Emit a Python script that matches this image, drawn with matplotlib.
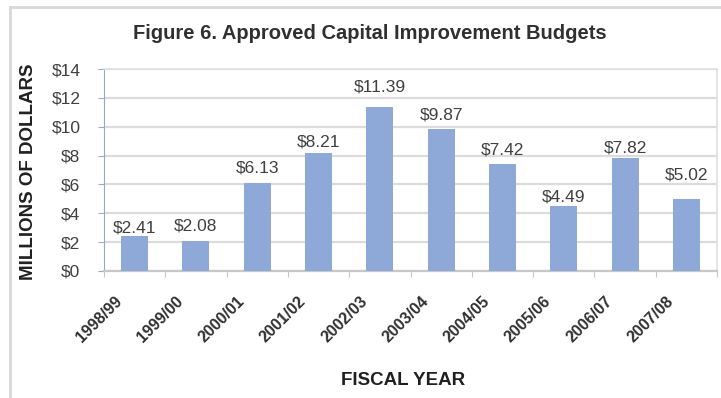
import matplotlib.pyplot as plt
import matplotlib.transforms as mtransforms
from matplotlib.lines import Line2D

# Approved capital improvement budgets, millions of dollars
years = ['1998/99', '1999/00', '2000/01', '2001/02', '2002/03',
         '2003/04', '2004/05', '2005/06', '2006/07', '2007/08']
budgets = [2.41, 2.08, 6.13, 8.21, 11.39, 9.87, 7.42, 4.49, 7.82, 5.02]
y_ticks = [0, 2, 4, 6, 8, 10, 12, 14]

# hand-placed value labels: gap above each bar, in pixels
label_gap = [4, 10, 10, 6, 15, 9, 9, 5, 6, 19]

plt.rcParams['font.family'] = ['Liberation Sans', 'DejaVu Sans']

fig = plt.figure(figsize=(7.21, 3.98), dpi=100)
ax = fig.add_axes([0.1442, 0.3191, 0.8503, 0.5075])

x = list(range(len(years)))
ax.bar(x, budgets, width=0.44, color='#8EA9D8', zorder=3)

for xi, val, gap in zip(x, budgets, label_gap):
    ax.annotate(f'${val:.2f}', (xi, val), xytext=(0, gap), textcoords='offset pixels',
                ha='center', va='baseline', fontsize=12.5, color='#404040')

ax.set_xlim(-0.5, len(years) - 0.5)
ax.set_ylim(0, 14)
ax.set_yticks(y_ticks)
ax.set_yticklabels([f'${t}' for t in y_ticks], fontsize=12.5, color='#404040')
ax.yaxis.grid(True, color='#DCDCDC', linewidth=1.6, zorder=0)

# category boundary ticks on the x axis
ax.set_xticks([i - 0.5 for i in range(len(years) + 1)])
ax.set_xticklabels([])
ax.tick_params(axis='x', length=4, color='#C8C8C8')
ax.tick_params(axis='y', length=4, color='#9AA8C4', pad=13)

# slanted year labels, right end just left of each bar centre
shift = mtransforms.ScaledTranslation(-15 / 100, -28 / 100, fig.dpi_scale_trans)
label_tr = ax.get_xaxis_transform() + shift
for xi, yr in zip(x, years):
    ax.text(xi, 0, yr, transform=label_tr, rotation=45, rotation_mode='anchor',
            ha='right', va='center', fontsize=11.5, fontweight='bold', color='#303030')

for side in ['top', 'right']:
    ax.spines[side].set_color('#E0E0E0')
    ax.spines[side].set_linewidth(1.2)
ax.spines['left'].set_color('#9AA8C4')
ax.spines['bottom'].set_color('#C8C8C8')
ax.spines['bottom'].set_linewidth(1.6)

ax.set_ylabel('MILLIONS OF DOLLARS', fontsize=13.5, fontweight='bold', color='#202020')
ax.yaxis.set_label_coords(-0.110, 0.49)
ax.set_xlabel('FISCAL YEAR', fontsize=13.5, fontweight='bold', color='#202020')
ax.xaxis.set_label_coords(0.488, -0.50)

fig.text(0.513, 0.917, 'Figure 6. Approved Capital Improvement Budgets',
         ha='center', va='center', fontsize=14.5, fontweight='bold', color='#303030')

# chart frame edges
fig.add_artist(Line2D([0.0139, 1.0], [0.982, 0.982], color='#D8D8D8', linewidth=2))
fig.add_artist(Line2D([0.0139, 0.0139], [0.0, 0.982], color='#D8D8D8', linewidth=2))

fig.savefig('out.png', dpi=100)
